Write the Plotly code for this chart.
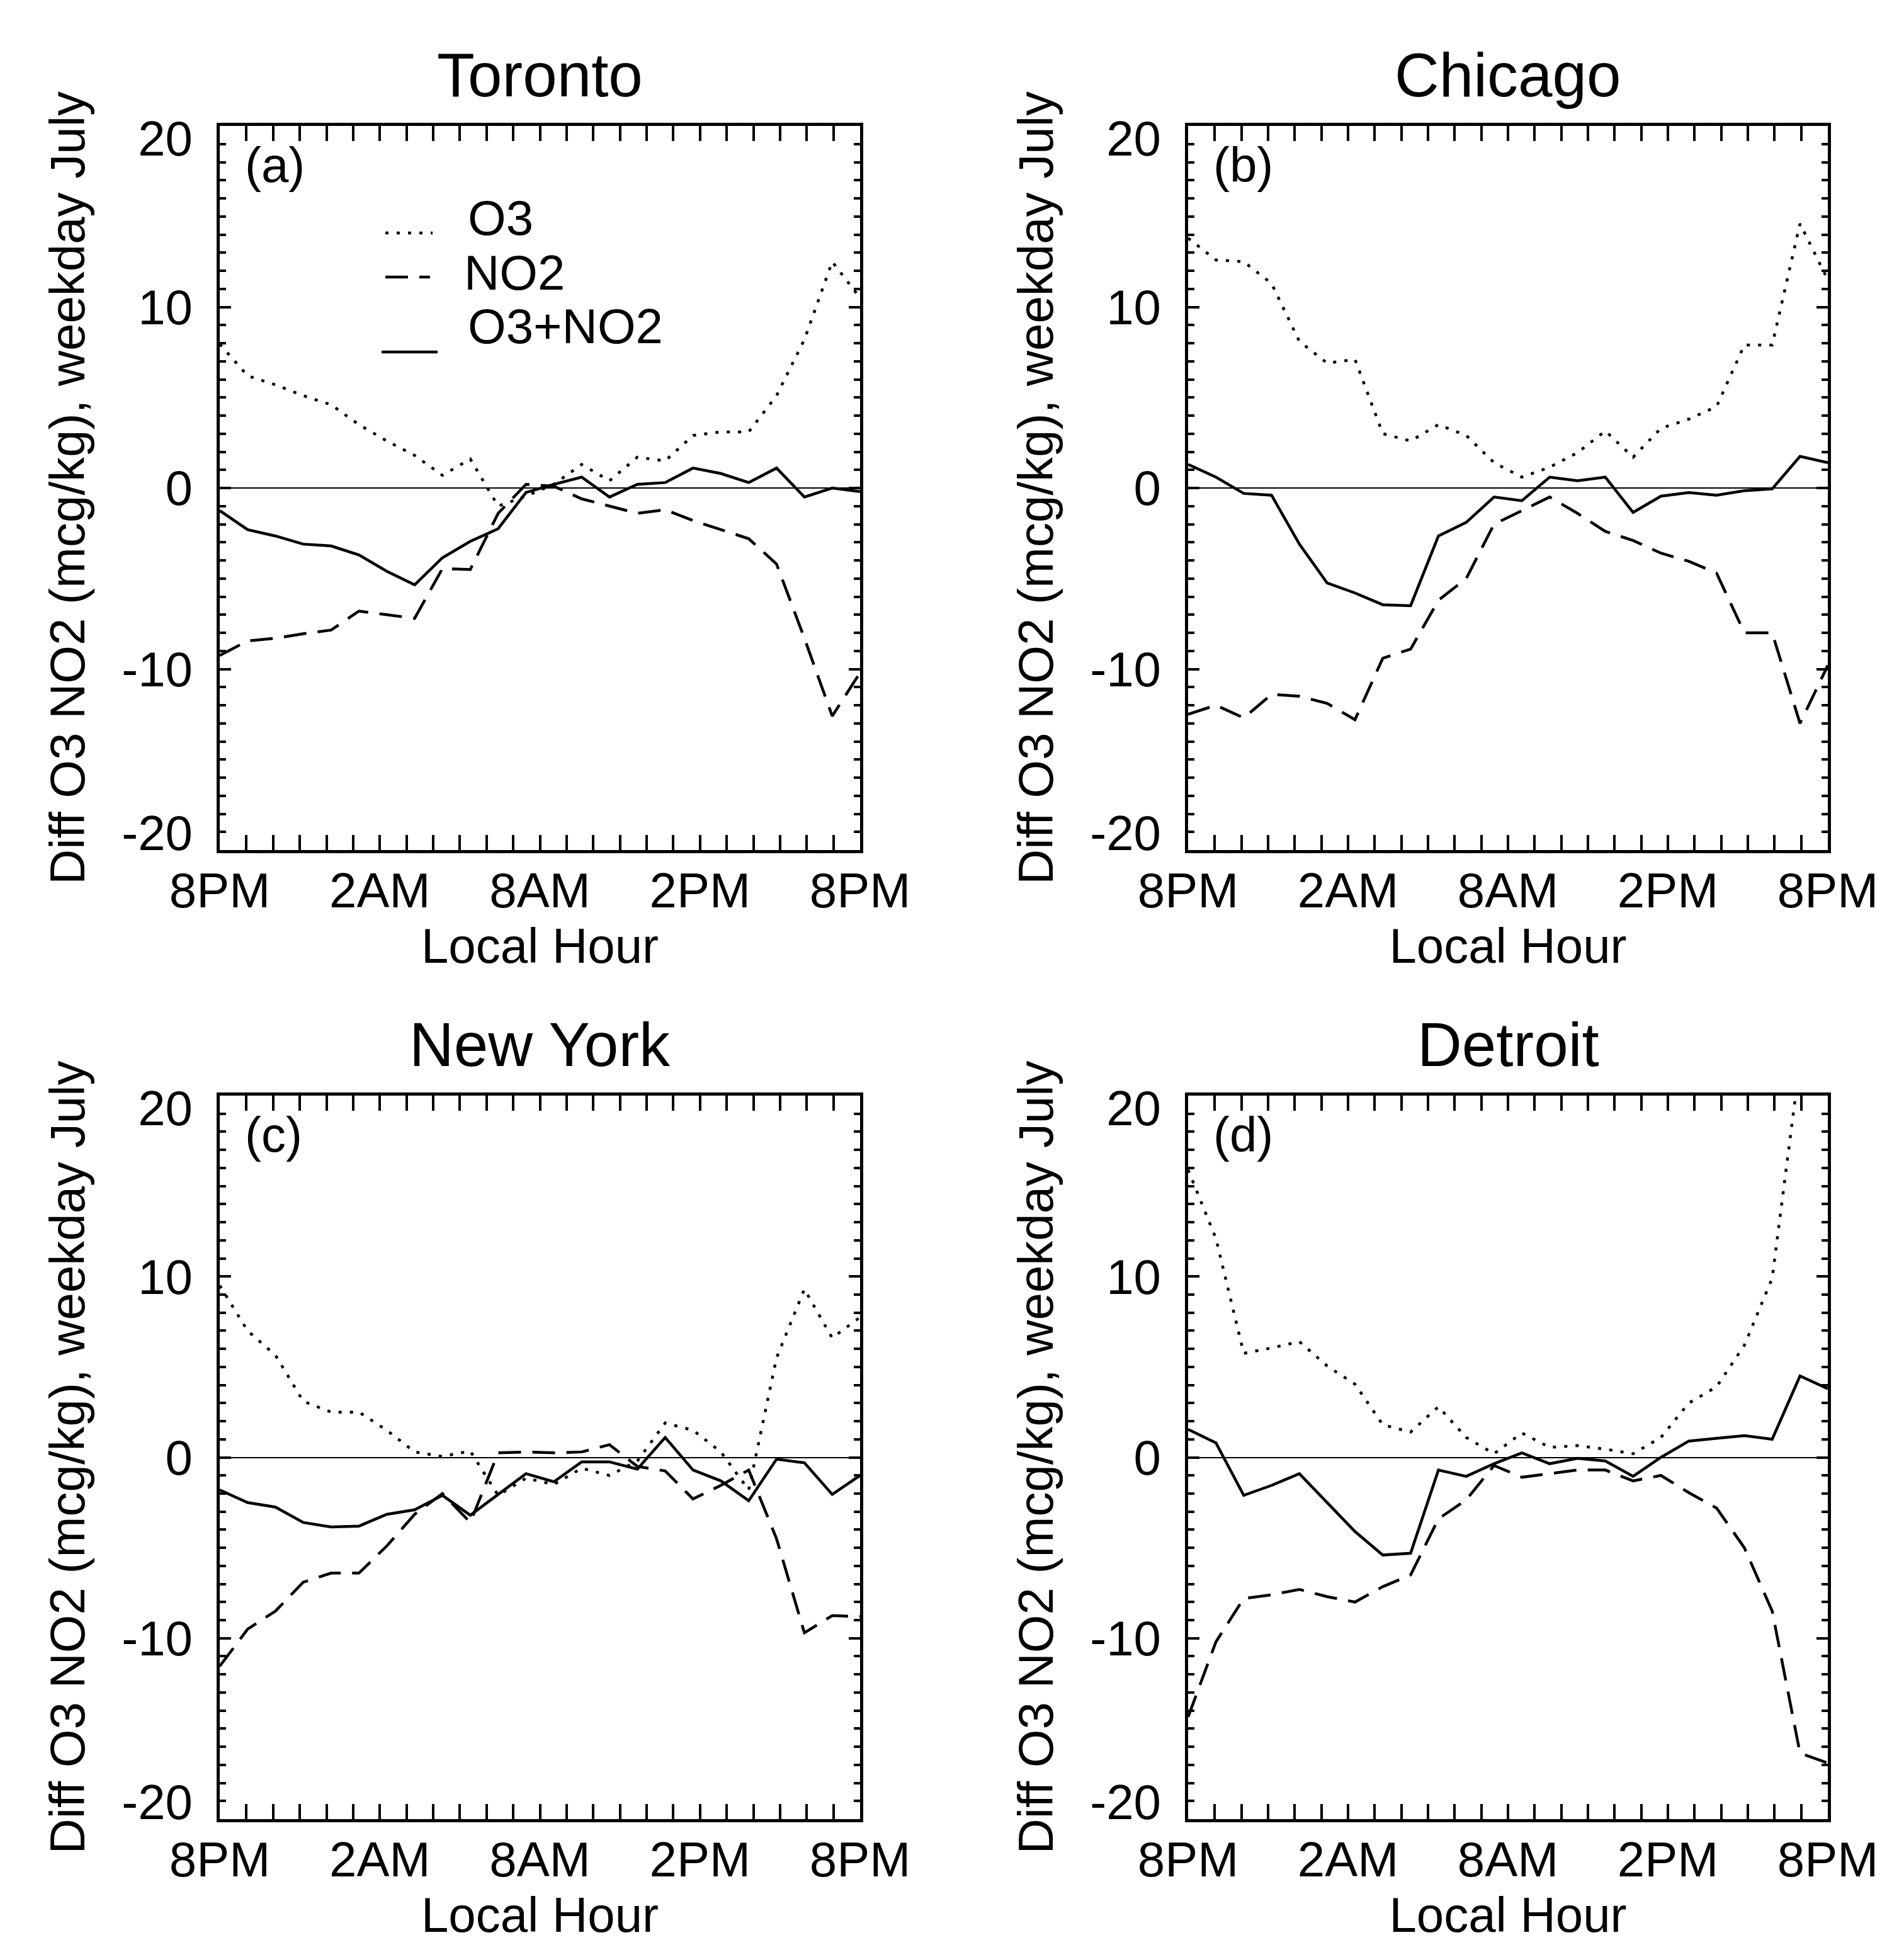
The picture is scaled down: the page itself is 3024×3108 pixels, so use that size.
import plotly.graph_objects as go

# ---------------- data (24 hourly values, 8PM -> 8PM) ----------------
hour_index = list(range(24))
tick_positions = [0, 5.75, 11.5, 17.25, 23]
tick_labels = ["8PM", "2AM", "8AM", "2PM", "8PM"]
y_tick_values = [-20, -10, 0, 10, 20]
y_tick_labels = ["-20", "-10", "0", "10", "20"]

cities = ["Toronto", "Chicago", "New York", "Detroit"]
panel_tags = ["(a)", "(b)", "(c)", "(d)"]

toronto_o3 = [7.95, 6.2, 5.7, 5.1, 4.6, 3.5, 2.6, 1.8, 0.7, 1.6, -1.0, -0.45,
              0.2, 1.3, 0.4, 1.7, 1.5, 2.9, 3.1, 3.1, 5.1, 8.2, 12.5, 10.5]
toronto_no2 = [-9.25, -8.45, -8.3, -8.05, -7.85, -6.8, -7.0, -7.2, -4.45, -4.5, -1.4, 0.2,
               0.1, -0.6, -1.0, -1.4, -1.2, -1.8, -2.3, -2.8, -4.2, -8.3, -12.6, -10.2]
toronto_sum = [-1.25, -2.3, -2.65, -3.1, -3.2, -3.7, -4.6, -5.35, -3.85, -2.95, -2.25, -0.25,
               0.2, 0.6, -0.5, 0.2, 0.3, 1.1, 0.8, 0.3, 1.1, -0.5, 0.0, -0.2]

chicago_o3 = [13.8, 12.6, 12.5, 11.3, 8.1, 6.9, 7.1, 3.0, 2.6, 3.5, 2.9, 1.4,
              0.6, 1.15, 1.95, 3.15, 1.7, 3.3, 3.8, 4.5, 7.9, 7.9, 14.6, 11.5]
chicago_no2 = [-12.5, -12.0, -12.7, -11.4, -11.5, -11.9, -12.8, -9.4, -8.9, -6.2, -5.0, -2.0,
               -1.25, -0.5, -1.4, -2.4, -2.9, -3.6, -4.05, -4.7, -8.0, -8.0, -13.0, -9.8]
chicago_sum = [1.3, 0.6, -0.3, -0.4, -3.1, -5.25, -5.8, -6.45, -6.5, -2.65, -1.9, -0.5,
               -0.7, 0.6, 0.4, 0.6, -1.35, -0.45, -0.25, -0.4, -0.15, -0.05, 1.75, 1.4]

newyork_o3 = [9.5, 7.0, 5.65, 3.1, 2.5, 2.5, 1.5, 0.3, 0.05, 0.35, -2.1, -1.15,
              -1.5, -0.6, -1.0, -0.2, 1.9, 1.5, 0.3, -1.8, 5.5, 9.3, 6.6, 7.75]
newyork_no2 = [-11.55, -9.5, -8.5, -6.9, -6.4, -6.4, -4.9, -3.15, -2.0, -3.6, 0.25, 0.3,
               0.25, 0.3, 0.7, -0.5, -0.75, -2.3, -1.55, -0.7, -4.5, -9.7, -8.75, -8.8]
newyork_sum = [-1.8, -2.5, -2.75, -3.6, -3.85, -3.8, -3.15, -2.9, -2.1, -3.2, -2.05, -0.9,
               -1.35, -0.25, -0.25, -0.65, 1.1, -0.7, -1.3, -2.4, -0.1, -0.3, -2.05, -1.0]

detroit_o3 = [15.9, 12.1, 5.75, 6.05, 6.4, 5.05, 4.05, 1.8, 1.4, 2.8, 1.1, 0.2,
              1.35, 0.55, 0.65, 0.45, 0.2, 1.1, 3.0, 3.9, 6.2, 9.9, 21.9, 24.0]
detroit_no2 = [-14.35, -10.2, -7.8, -7.6, -7.3, -7.7, -8.0, -7.15, -6.5, -3.4, -2.35, -0.45,
               -1.1, -0.9, -0.7, -0.7, -1.3, -1.0, -1.95, -2.8, -5.0, -8.5, -16.35, -16.9]
detroit_sum = [1.55, 0.8, -2.1, -1.55, -0.9, -2.5, -4.1, -5.4, -5.3, -0.7, -1.05, -0.35,
               0.25, -0.35, -0.05, -0.2, -1.05, 0.0, 0.9, 1.05, 1.2, 1.0, 4.5, 3.8]

series_o3 = [toronto_o3, chicago_o3, newyork_o3, detroit_o3]
series_no2 = [toronto_no2, chicago_no2, newyork_no2, detroit_no2]
series_sum = [toronto_sum, chicago_sum, newyork_sum, detroit_sum]

y_title = "Diff O3 NO2 (mcg/kg), weekday July"
x_title = "Local Hour"

# ---------------- styling / layout ----------------
W, H = 3024, 3108
FONT = "Liberation Sans, Arial, Helvetica, sans-serif"
LW = 4.5
DOT = "5px,13px"
DASH = "36px,18px"

x_domains = [[341 / W, 1358 / W], [1879 / W, 2895 / W]]
y_domains = [[1 - 1342 / H, 1 - 192 / H], [1 - 2881 / H, 1 - 1732 / H]]

minor_x = [i * 23 / 24 for i in range(25)]
# end labels are tucked inside the frame (as in the original figure)
label_nudge = {-20: 0.95, 20: -0.7}
y_label_positions = [v + label_nudge.get(v, 0) for v in y_tick_values]

fig = go.Figure()
layout = dict(
    width=W, height=H, margin=dict(l=0, r=0, t=0, b=0),
    paper_bgcolor="white", plot_bgcolor="white",
    font=dict(family=FONT, color="black", size=78),
    showlegend=False,
)

annotations = []
shapes = []

for k in range(4):
    row, col = divmod(k, 2)
    xa = "xaxis" if k == 0 else f"xaxis{k+1}"
    ya = "yaxis" if k == 0 else f"yaxis{k+1}"
    xr = "x" if k == 0 else f"x{k+1}"
    yr = "y" if k == 0 else f"y{k+1}"
    ylab_a = f"yaxis{k+5}"
    ylab_r = f"y{k+5}"

    layout[xa] = dict(
        domain=x_domains[col], anchor=yr, range=[0, 23],
        tickmode="array", tickvals=tick_positions, ticktext=tick_labels,
        ticks="inside", ticklen=24, tickwidth=3.5, tickcolor="black",
        minor=dict(tickmode="array", tickvals=minor_x, ticks="inside",
                   ticklen=12, tickwidth=3.5, tickcolor="black", showgrid=False),
        showline=True, linewidth=5, linecolor="black", mirror="allticks",
        showgrid=False, zeroline=False,
        tickfont=dict(size=78, family=FONT, color="black"),
        ticklabelstandoff=-8,
        title=dict(text=x_title, font=dict(size=78, family=FONT, color="black"), standoff=4),
        automargin=False,
    )
    layout[ya] = dict(
        domain=y_domains[row], anchor=xr, range=[-20, 20],
        tickmode="array", tickvals=y_tick_values, showticklabels=False,
        ticks="inside", ticklen=18, tickwidth=3.5, tickcolor="black",
        minor=dict(dtick=1, tick0=0, ticks="inside", ticklen=10, tickwidth=3.5,
                   tickcolor="black", showgrid=False),
        showline=True, linewidth=5, linecolor="black", mirror="allticks",
        showgrid=False, zeroline=True, zerolinecolor="black", zerolinewidth=1.5,
        automargin=False,
    )
    # label-only axis carrying the tick labels and the axis title
    layout[ylab_a] = dict(
        overlaying=yr, anchor=xr, side="left", range=[-20, 20],
        tickmode="array", tickvals=y_label_positions, ticktext=y_tick_labels,
        ticks="", showline=False, showgrid=False, zeroline=False,
        tickfont=dict(size=78, family=FONT, color="black"),
        ticklabelstandoff=42,
        title=dict(text=y_title, font=dict(size=78, family=FONT, color="black"), standoff=32),
        automargin=False,
    )
    fig.add_trace(go.Scatter(x=[], y=[], xaxis=xr, yaxis=ylab_r, showlegend=False,
                             hoverinfo="skip"))

    fig.add_trace(go.Scatter(x=hour_index, y=series_o3[k], mode="lines", xaxis=xr, yaxis=yr,
                             line=dict(color="black", width=LW, dash=DOT), name="O3"))
    fig.add_trace(go.Scatter(x=hour_index, y=series_no2[k], mode="lines", xaxis=xr, yaxis=yr,
                             line=dict(color="black", width=LW, dash=DASH), name="NO2"))
    fig.add_trace(go.Scatter(x=hour_index, y=series_sum[k], mode="lines", xaxis=xr, yaxis=yr,
                             line=dict(color="black", width=LW), name="O3+NO2"))

    # city title
    annotations.append(dict(text=cities[k], xref=f"{xr} domain", yref=f"{yr} domain",
                            x=0.5, y=1, xanchor="center", yanchor="bottom", yshift=24,
                            showarrow=False, font=dict(size=98, family=FONT, color="black")))
    # panel tag
    annotations.append(dict(text=panel_tags[k], xref=f"{xr} domain", yref=f"{yr} domain",
                            x=0, y=1, xanchor="left", yanchor="top", xshift=38, yshift=-16,
                            showarrow=False, font=dict(size=78, family=FONT, color="black")))

# legend inside panel (a)
legend_items = [("O3", DOT, 0.2586, 0.3324, 0.8522, 0.3854, 0.8730),
                ("NO2", DASH, 0.2586, 0.3284, 0.7913, 0.3795, 0.7974),
                ("O3+NO2", "solid", 0.2527, 0.3402, 0.6878, 0.3854, 0.7235)]
for name, dash, x0, x1, yl, xt, yt in legend_items:
    shapes.append(dict(type="line", xref="x domain", yref="y domain",
                       x0=x0, x1=x1, y0=yl, y1=yl,
                       line=dict(color="black", width=LW, dash=dash)))
    annotations.append(dict(text=name, xref="x domain", yref="y domain", x=xt, y=yt,
                            xanchor="left", yanchor="middle", showarrow=False,
                            font=dict(size=78, family=FONT, color="black")))

layout["annotations"] = annotations
layout["shapes"] = shapes
fig.update_layout(**layout)
fig.write_html("out.html")
